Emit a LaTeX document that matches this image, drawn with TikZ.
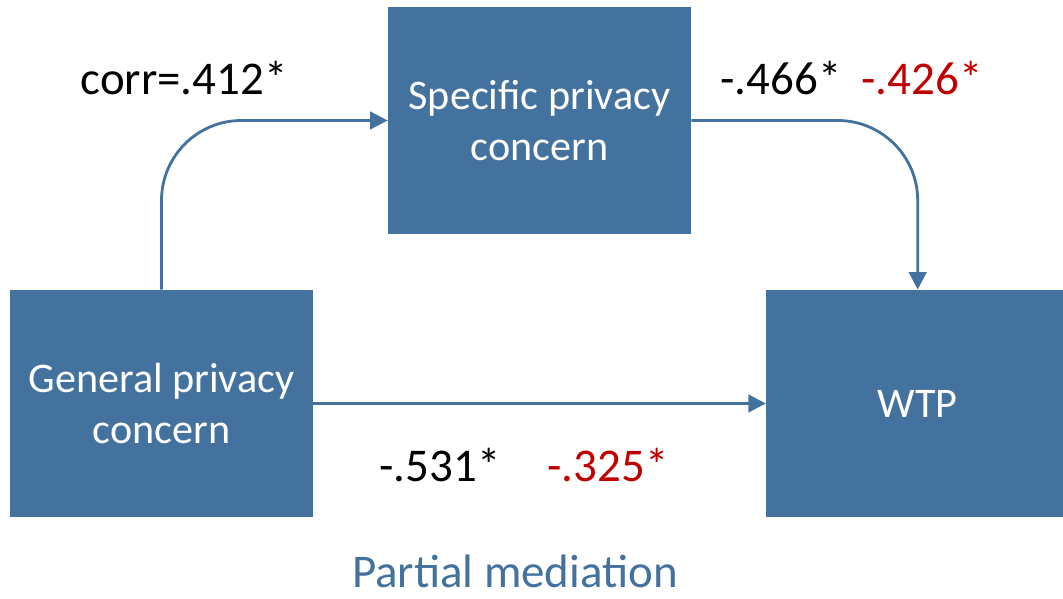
\documentclass[tikz,border=0pt]{standalone}
\usepackage{fontspec}
\setmainfont{Carlito}
\usetikzlibrary{positioning,arrows.meta}
\definecolor{boxblue}{HTML}{44729E}
\definecolor{coefred}{HTML}{C00000}

\begin{document}
\begin{tikzpicture}[node distance=9.05cm,
	box/.style={fill=boxblue, text=white, align=center, minimum width=6.06cm, minimum height=4.54cm, inner sep=0pt, font=\fontsize{24}{29.5}\selectfont},
	coef/.style={font=\fontsize{26.7}{32}\selectfont},
	conn/.style={draw=boxblue, line width=1.6pt, -{Triangle[length=10pt,width=10pt]}}]
	\useasboundingbox (0,0) rectangle (21.26,11.98);
	\node[box] (gen) at (3.23,3.91) {General privacy\\concern};
	\node[box] (wtp) [right=of gen] {WTP};
	\node[box] (spec) at (10.79,9.57) {Specific privacy\\concern};
	\draw[conn, rounded corners=1.6cm] (gen.north) |- (spec.west);
	\draw[conn, rounded corners=1.6cm] (spec.east) -| (wtp.north);
	\draw[conn] (gen.east) -- (wtp.west);
	\node[coef] (corr) at (3.68,10.42) {corr=.412*};
	\node[coef] (bsw) at (15.62,10.42) {-.466*};
	\node[coef, text=coefred] (bswm) at (18.44,10.42) {-.426*};
	\node[coef] (bgw) at (8.8,2.68) {-.531*};
	\node[coef, text=coefred] (bgwm) at (12.16,2.68) {-.325*};
	\node[coef, text=boxblue, inner sep=0pt] (title) at (10.3,0.55) {Partial mediation};
\end{tikzpicture}
\end{document}
